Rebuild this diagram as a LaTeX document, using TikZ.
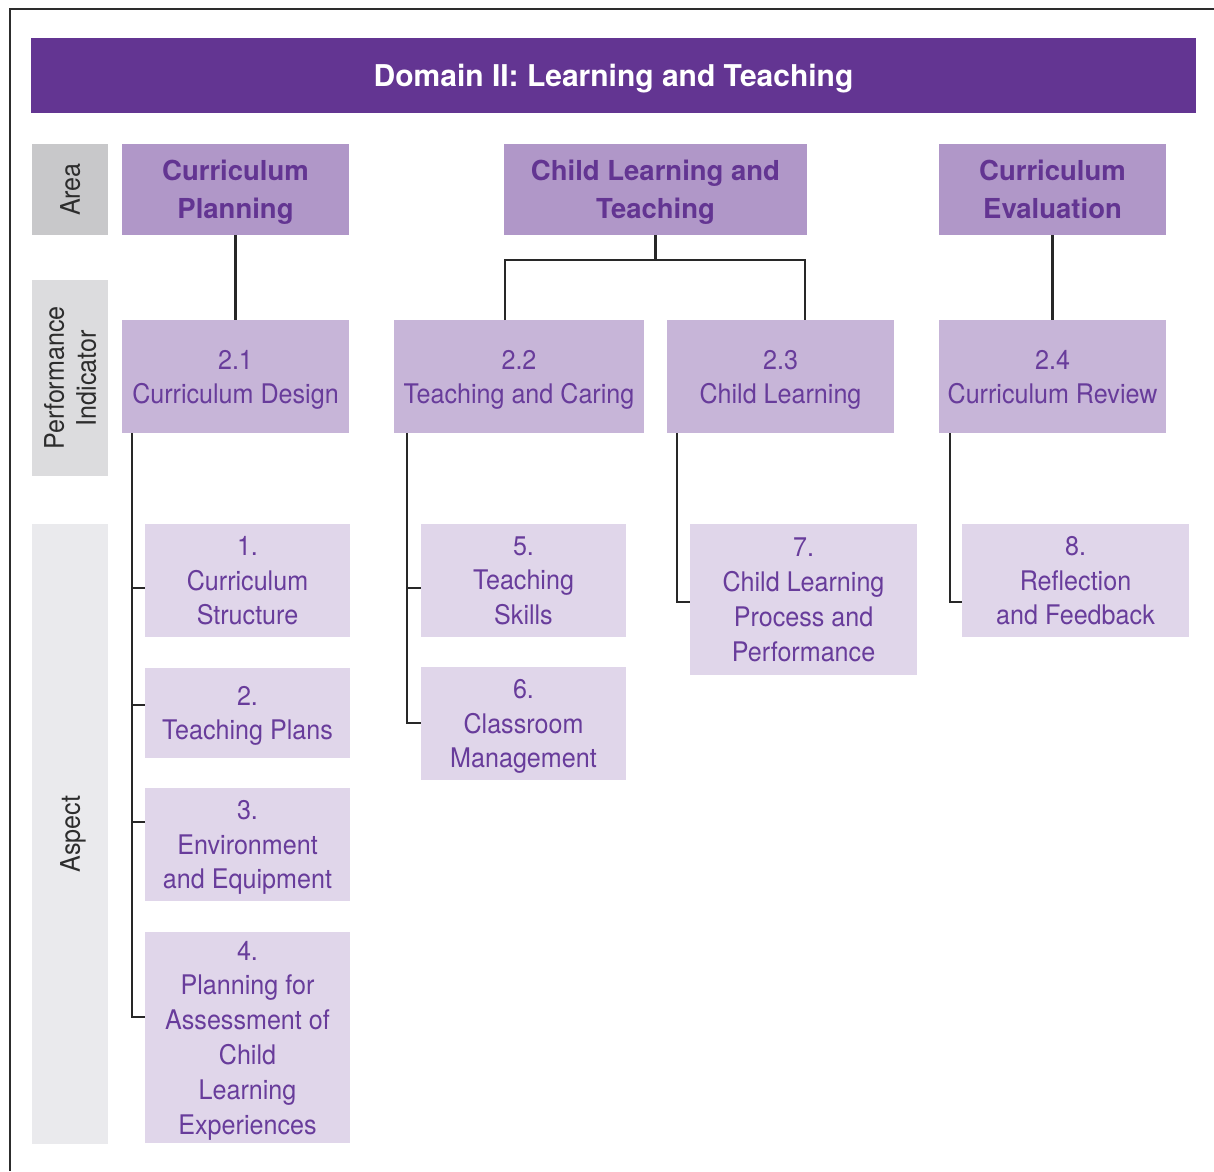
\documentclass[tikz,border=0pt]{standalone}
\usepackage{fontspec}
\setmainfont{TeX Gyre Heros}
\newfontfamily\lightfont[FakeStretch=0.93]{TeX Gyre Heros}
\usetikzlibrary{calc}
\definecolor{hdr}{RGB}{99,53,146}
\definecolor{areac}{RGB}{176,151,200}
\definecolor{pic}{RGB}{199,181,216}
\definecolor{aspc}{RGB}{224,214,234}
\definecolor{txtp}{RGB}{104,60,155}
\definecolor{gA}{RGB}{200,200,202}
\definecolor{gB}{RGB}{220,220,222}
\definecolor{gC}{RGB}{234,234,237}
\definecolor{linec}{RGB}{40,40,40}
\definecolor{labc}{RGB}{45,45,45}
\begin{document}
\begin{tikzpicture}[x=1pt,y=-1pt,
  box/.style={rectangle, inner sep=0pt, outer sep=0pt, align=center, anchor=north west, text depth=-3pt},
  hdrbox/.style={box, fill=hdr, text=white, font=\bfseries\fontsize{30}{36}\selectfont},
  areabox/.style={box, fill=areac, text=hdr, font=\bfseries\fontsize{27.5}{38}\selectfont},
  pibox/.style={box, fill=pic, text=txtp, font=\lightfont\fontsize{27}{34}\selectfont},
  aspbox/.style={box, fill=aspc, text=txtp, font=\lightfont\fontsize{27}{34.8}\selectfont},
  lab/.style={rectangle, inner sep=0pt, outer sep=0pt, align=center, rotate=90, text depth=-3pt, text=labc, font=\lightfont\fontsize{27}{32}\selectfont, minimum height=76pt},
  conn/.style={draw=linec, line width=2.5pt}
]
\useasboundingbox (0,0) rectangle (1214,1171);
\draw[draw=labc, line width=2.2pt] (10,1171) -- (10,9) -- (1214,9);

\node[hdrbox, minimum width=1165pt, minimum height=75pt] (hdr) at (31,38) {Domain II: Learning and Teaching};

\node[lab, fill=gA, minimum width=91pt] (larea) at (70,189.5) {Area};
\node[lab, fill=gB, minimum width=196pt] (lpi) at (70,378) {Performance\\Indicator};
\node[lab, fill=gC, minimum width=620pt] (lasp) at (70,834) {Aspect};

\node[areabox, minimum width=227pt, minimum height=91pt] (cp) at (122,144) {Curriculum\\Planning};
\node[areabox, minimum width=303pt, minimum height=91pt] (clt) at (504,144) {Child Learning and\\Teaching};
\node[areabox, minimum width=227pt, minimum height=91pt] (ce) at (939,144) {Curriculum\\Evaluation};

\node[pibox, minimum width=227pt, minimum height=113pt] (pi1) at (122,320) {2.1\\Curriculum Design};
\node[pibox, minimum width=250pt, minimum height=113pt] (pi2) at (394,320) {2.2\\Teaching and Caring};
\node[pibox, minimum width=227pt, minimum height=113pt] (pi3) at (667,320) {2.3\\Child Learning};
\node[pibox, minimum width=227pt, minimum height=113pt] (pi4) at (939,320) {2.4\\Curriculum Review};

\node[aspbox, minimum width=205pt, minimum height=113pt] (a1) at (145,524) {1.\\Curriculum\\Structure};
\node[aspbox, minimum width=205pt, minimum height=90pt] (a2) at (145,668) {2.\\Teaching Plans};
\node[aspbox, minimum width=205pt, minimum height=113pt] (a3) at (145,788) {3.\\Environment\\and Equipment};
\node[aspbox, minimum width=205pt, minimum height=211pt] (a4) at (145,932) {4.\\Planning for\\Assessment of\\Child\\Learning\\Experiences};
\node[aspbox, minimum width=205pt, minimum height=113pt] (a5) at (421,524) {5.\\Teaching\\Skills};
\node[aspbox, minimum width=205pt, minimum height=113pt] (a6) at (421,667) {6.\\Classroom\\Management};
\node[aspbox, minimum width=227pt, minimum height=151pt] (a7) at (690,524) {7.\\Child Learning\\Process and\\Performance};
\node[aspbox, minimum width=227pt, minimum height=113pt] (a8) at (962,524) {8.\\Reflection\\and Feedback};

% area -> performance indicators
\draw[conn] (cp.south) -- (pi1.north);
\draw[conn] (ce.south) -- (pi4.north);
\draw[conn] (clt.south) -- ++(0,25) coordinate (cltj);
\coordinate (cltl) at ([xshift=1pt]clt.south west);
\coordinate (cltr) at ([xshift=-2pt]clt.south east);
\draw[conn] (cltl |- pi2.north) -- (cltl |- cltj) -- (cltr |- cltj) -- (cltr |- pi3.north);

% performance indicators -> aspects
\coordinate (v1) at ([xshift=10pt]pi1.south west);
\coordinate (v2) at ([xshift=13pt]pi2.south west);
\coordinate (v3) at ([xshift=10pt]pi3.south west);
\coordinate (v4) at ([xshift=11pt]pi4.south west);
\draw[conn] (v1) |- ([yshift=-64pt]a1.north west);
\draw[conn] (v1) |- ([yshift=-37pt]a2.north west);
\draw[conn] (v1) |- ([yshift=-34pt]a3.north west);
\draw[conn] (v1) |- ([yshift=-85pt]a4.north west);
\draw[conn] (v2) |- ([yshift=-64pt]a5.north west);
\draw[conn] (v2) |- ([yshift=-56pt]a6.north west);
\draw[conn] (v3) |- ([yshift=-78pt]a7.north west);
\draw[conn] (v4) |- ([yshift=-78pt]a8.north west);
\end{tikzpicture}
\end{document}
